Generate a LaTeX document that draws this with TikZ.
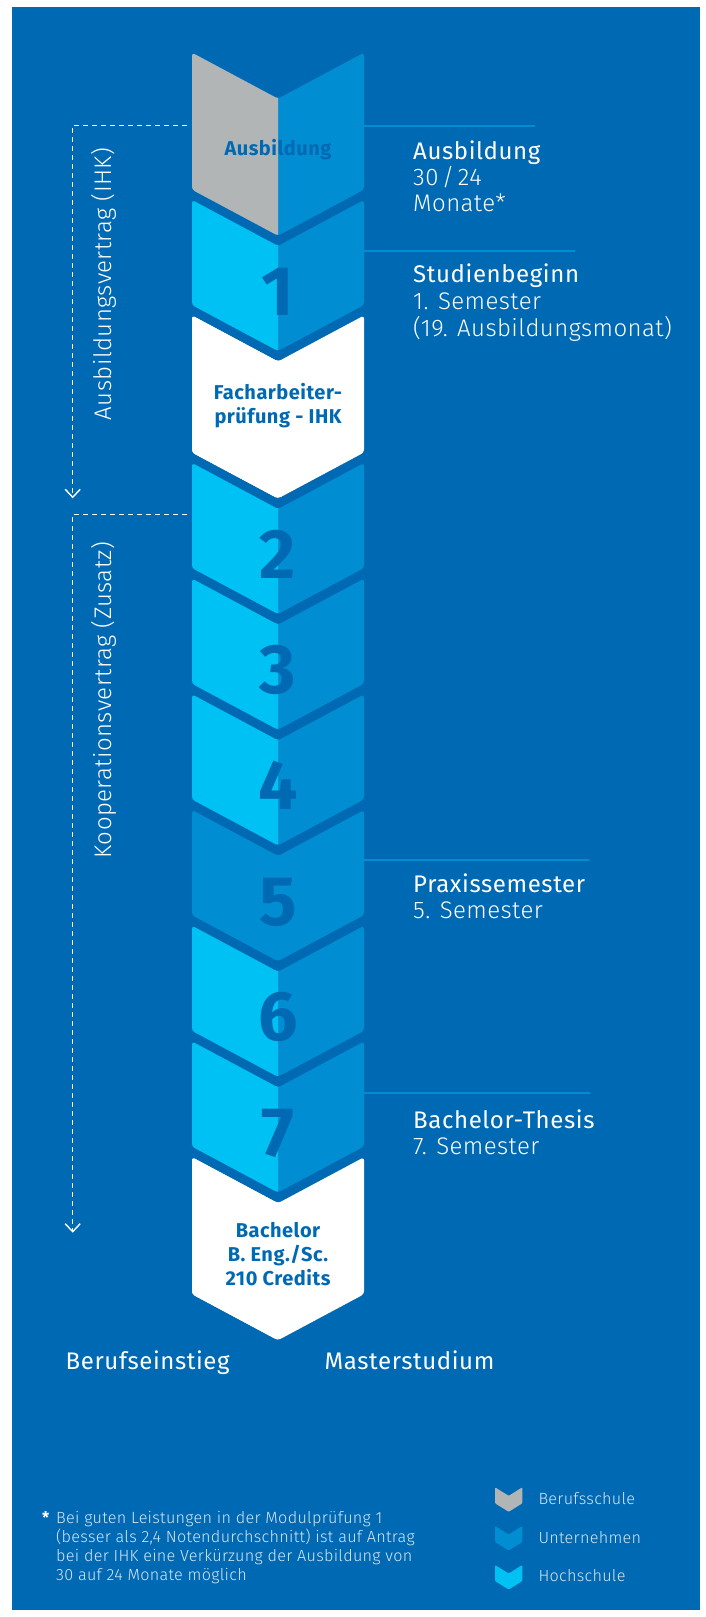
\documentclass[tikz,border=0pt]{standalone}
\usepackage{fontspec}
\setmainfont{Fira Sans}[LetterSpace=2.5]
\newfontfamily\fina{Fira Sans Light}[LetterSpace=1.8]
\newfontfamily\cifra{Fira Sans}
\usetikzlibrary{arrows.meta}

\definecolor{fondo}{RGB}{0,105,180}
\definecolor{medio}{RGB}{0,141,210}
\definecolor{cian}{RGB}{0,193,243}
\definecolor{gris}{RGB}{178,181,182}
\definecolor{palido}{RGB}{215,230,243}

\tikzset{
  titulo/.style={text=white, anchor=base west, inner sep=0pt, font=\fontsize{24}{26}\selectfont},
  detalle/.style={titulo, font=\fina\fontsize{24}{26}\selectfont},
  numero/.style={text=fondo, anchor=base, inner sep=0pt, font=\cifra\bfseries\fontsize{70}{70}\selectfont},
  rotulo/.style={text=fondo, anchor=base, inner sep=0pt, font=\bfseries\fontsize{20}{24}\selectfont},
  linea/.style={medio, line width=2pt},
  guia/.style={white, dash pattern=on 5pt off 4pt, line width=1.4pt},
  nota/.style={text=palido, anchor=base west, inner sep=0pt, font=\fina\fontsize{16.2}{19}\selectfont}
}

% Bloque en forma de flecha: \bloque{arriba}{alto}{color izq.}{color der.}
\newcommand{\bloque}[4]{%
  \fill[#4, rounded corners=3pt] (192,#1) -- (278,#1+46) -- (364,#1) -- (364,#1+#2) -- (278,#1+#2+46) -- (192,#1+#2) -- cycle;
  \begin{scope}
    \clip (185,#1-5) rectangle (278,#1+#2+55);
    \fill[#3, rounded corners=3pt] (192,#1) -- (278,#1+46) -- (364,#1) -- (364,#1+#2) -- (278,#1+#2+46) -- (192,#1+#2) -- cycle;
  \end{scope}}

% Icono pequeno de la leyenda: \icono{arriba}{color}
\newcommand{\icono}[2]{%
  \fill[#2, rounded corners=1pt] (495,#1) -- (508.7,#1+8.5) -- (522.3,#1) -- (522.3,#1+16) -- (508.7,#1+24.5) -- (495,#1+16) -- cycle;}

\begin{document}
\begin{tikzpicture}[x=1pt, y=-1pt]
% Fondo azul con margen blanco
\useasboundingbox (0,0) rectangle (705,1617);
\fill[white] (0,0) rectangle (705,1617);
\fill[fondo] (12,7) rectangle (700,1610);

% La columna de bloques
\bloque{52.7}{137}{gris}{medio}
\bloque{200}{105}{cian}{medio}
\bloque{315.5}{137}{white}{white}
\bloque{463}{105}{cian}{medio}
\bloque{578.7}{105}{cian}{medio}
\bloque{694.4}{105}{cian}{medio}
\bloque{810.1}{105}{medio}{medio}
\bloque{925.8}{105}{cian}{medio}
\bloque{1041.5}{105}{cian}{medio}
\bloque{1157.2}{137}{white}{white}

% Textos dentro de los bloques
\node[rotulo] (aus) at (278,155) {Ausbildung};
\node[numero] (n1) at (278,315) {1};
\node[rotulo] (fa1) at (278,399.3) {Facharbeiter-};
\node[rotulo] (fa2) at (278,423.3) {prüfung - IHK};
\node[numero] (n2) at (278,578) {2};
\node[numero] (n3) at (278,693.7) {3};
\node[numero] (n4) at (278,809.4) {4};
\node[numero] (n5) at (278,925.1) {5};
\node[numero] (n6) at (278,1040.8) {6};
\node[numero] (n7) at (278,1156.5) {7};
\node[rotulo] (ba1) at (278,1237) {Bachelor};
\node[rotulo] (ba2) at (278,1261) {B. Eng./Sc.};
\node[rotulo] (ba3) at (278,1285) {210 Credits};

% Lineas hacia los textos de la derecha
\coordinate (a1) at (364,125.5);
\coordinate (e1) at (535,125.5);
\coordinate (a2) at (364,251);
\coordinate (e2) at (575,251);
\coordinate (a3) at (364,860);
\coordinate (e3) at (589,860);
\coordinate (a4) at (364,1093);
\coordinate (e4) at (590,1093);
\draw[linea] (a1) -- (e1);
\draw[linea] (a2) -- (e2);
\draw[linea] (a3) -- (e3);
\draw[linea] (a4) -- (e4);

% Textos de la derecha
\node[titulo] (t1) at (413,159.3) {Ausbildung};
\node[detalle] (t1b) at (413,185) {30\hspace{3.5pt}/\hspace{3.5pt}24};
\node[detalle] (t1c) at (413,211.7) {Monate*};
\node[titulo] (t2) at (413,282.7) {Studienbeginn};
\node[detalle] (t2b) at (413,309.3) {1. Semester};
\node[detalle] (t2c) at (413,336) {(19. Ausbildungsmonat)};
\node[titulo] (t3) at (413,892.3) {Praxissemester};
\node[detalle] (t3b) at (413,918.3) {5. Semester};
\node[titulo] (t4) at (413,1128) {Bachelor-Thesis};
\node[detalle] (t4b) at (413,1154) {7. Semester};

% Lineas discontinuas con flecha
\coordinate (g1a) at (187,125.7);
\coordinate (g1b) at (72.7,125.7);
\coordinate (g1c) at (72.7,498.3);
\coordinate (g2a) at (187,514.3);
\coordinate (g2b) at (72.7,514.3);
\coordinate (g2c) at (72.7,1232.7);
\draw[guia, -{Straight Barb[length=8pt,width=15pt]}] (g1a) -- (g1b) -- (g1c);
\draw[guia, -{Straight Barb[length=8pt,width=15pt]}] (g2a) -- (g2b) -- (g2c);
\node[detalle, anchor=base, rotate=90] (v1) at (111.7,284) {Ausbildungsvertrag (IHK)};
\node[detalle, anchor=base, rotate=90] (v2) at (111.7,700) {Kooperationsvertrag (Zusatz)};

% Salidas
\node[titulo] (s1) at (65.5,1369.3) {Berufseinstieg};
\node[titulo] (s2) at (324.5,1369.3) {Masterstudium};

% Nota al pie
\node[nota, text=white, font=\bfseries\fontsize{16}{19}\selectfont] (ast) at (42,1523.3) {*};
\node[nota] (f1) at (56,1523.3) {Bei guten Leistungen in der Modulprüfung 1};
\node[nota] (f2) at (56,1542.4) {(besser als 2,4 Notendurchschnitt) ist auf Antrag};
\node[nota] (f3) at (56,1561.5) {bei der IHK eine Verkürzung der Ausbildung von};
\node[nota] (f4) at (56,1580.6) {30 auf 24 Monate möglich};

% Leyenda
\icono{1487.3}{gris}
\icono{1526}{medio}
\icono{1565}{cian}
\node[nota] (k1) at (538.3,1504) {Berufsschule};
\node[nota] (k2) at (538.3,1543.3) {Unternehmen};
\node[nota] (k3) at (538.3,1581.7) {Hochschule};
\end{tikzpicture}
\end{document}
